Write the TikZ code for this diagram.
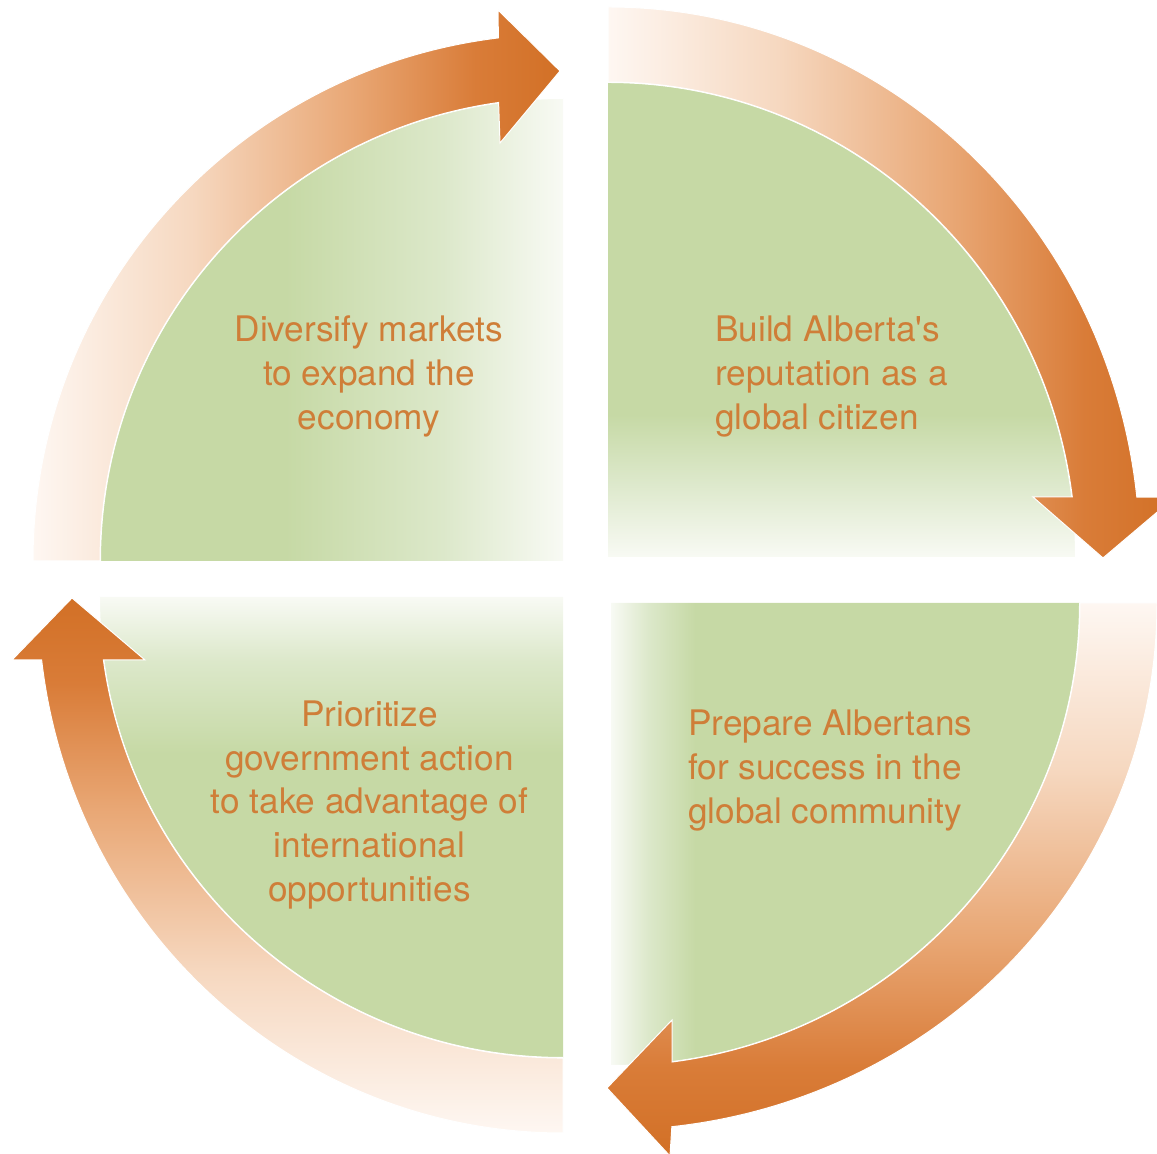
\documentclass[tikz,border=0pt]{standalone}
\usepackage{fontspec}
\newfontfamily\hv{TeX Gyre Heros}
\definecolor{gr}{RGB}{198,217,165}
\definecolor{gm}{RGB}{220,232,202}
\definecolor{gw}{RGB}{248,250,244}
\definecolor{o0}{RGB}{254,247,242}
\definecolor{o1}{RGB}{246,216,192}
\definecolor{o2}{RGB}{233,168,118}
\definecolor{o3}{RGB}{217,124,56}
\definecolor{o4}{RGB}{210,112,38}
\definecolor{txt}{RGB}{207,126,56}
% orange ramps
\pgfdeclarehorizontalshading{orH}{100bp}{color(0bp)=(o0); color(25bp)=(o0); color(40bp)=(o1); color(55bp)=(o2); color(67bp)=(o3); color(75bp)=(o4); color(100bp)=(o4)}
\pgfdeclareverticalshading{orUp}{100bp}{color(0bp)=(o0); color(25bp)=(o0); color(40bp)=(o1); color(55bp)=(o2); color(67bp)=(o3); color(75bp)=(o4); color(100bp)=(o4)}
\pgfdeclareverticalshading{orDown}{100bp}{color(0bp)=(o4); color(25bp)=(o4); color(33bp)=(o3); color(45bp)=(o2); color(60bp)=(o1); color(75bp)=(o0); color(100bp)=(o0)}
% green ramps
\pgfdeclarehorizontalshading{gTL}{100bp}{color(0bp)=(gr); color(45bp)=(gr); color(62bp)=(gm); color(75bp)=(gw); color(100bp)=(gw)}
\pgfdeclareverticalshading{gTR}{100bp}{color(0bp)=(gw); color(25bp)=(gw); color(33bp)=(gm); color(40bp)=(gr); color(100bp)=(gr)}
\pgfdeclarehorizontalshading{gBR}{100bp}{color(0bp)=(gw); color(25bp)=(gw); color(29bp)=(gm); color(34bp)=(gr); color(100bp)=(gr)}
\pgfdeclareverticalshading{gBL}{100bp}{color(0bp)=(gr); color(58bp)=(gr); color(68bp)=(gm); color(75bp)=(gw); color(100bp)=(gw)}
\begin{document}
\begin{tikzpicture}[x=1pt,y=1pt,
  lbl/.style={inner sep=0pt, text=txt, font=\hv\fontsize{35.2}{44}\selectfont},
  rim/.style={white, line width=2pt},
  arrowband/.style={draw=white, line width=1pt}]
\useasboundingbox (0,0) rectangle (1157,1154);
\clip (0,0) rectangle (1157,1154);
% green quadrants
\shade[shading=gTL] (563,593) -- (100,593) arc[start angle=180,end angle=90,radius=463pt] -- cycle;
\shade[shading=gTR] (608,597) -- (608,1072) arc[start angle=90,end angle=0,x radius=468pt,y radius=475pt] -- cycle;
\shade[shading=gBR] (611,551) -- (1080,551) arc[start angle=0,end angle=-90,x radius=469pt,y radius=463pt] -- cycle;
\shade[shading=gBL] (563,557) -- (563,96) arc[start angle=270,end angle=180,x radius=464pt,y radius=461pt] -- cycle;
% white rims along the quadrant arcs
\draw[rim] (100,593) arc[start angle=180,end angle=90,radius=463pt];
\draw[rim] (608,1072) arc[start angle=90,end angle=0,x radius=468pt,y radius=475pt];
\draw[rim] (1080,551) arc[start angle=0,end angle=-90,x radius=469pt,y radius=463pt];
\draw[rim] (563,96) arc[start angle=270,end angle=180,x radius=464pt,y radius=461pt];
% arrows
\shadedraw[shading=orH, arrowband] (33,593) arc[start angle=180,end angle=97,x radius=530pt,y radius=527pt]
  -- (498,1144) -- (560,1083) -- (500,1011) -- (498.6,1051.5)
  arc[start angle=98,end angle=180,radius=463pt] -- cycle;
\shadedraw[shading=orH, arrowband] (608,1147) arc[start angle=90,end angle=6.26,x radius=532pt,y radius=550pt]
  -- (1175,657) -- (1103,596) -- (1033,657) -- (1072.3,657)
  arc[start angle=7.26,end angle=90,x radius=468pt,y radius=475pt] -- cycle;
\shadedraw[shading=orDown, arrowband] (1157,551) arc[start angle=0,end angle=-83.6,x radius=546pt,y radius=527pt]
  -- (670,-2) -- (607,66) -- (672,134) -- (672.2,92)
  arc[start angle=-82.5,end angle=0,x radius=469pt,y radius=463pt] -- cycle;
\shadedraw[shading=orUp, arrowband] (563,21) arc[start angle=270,end angle=186.75,x radius=525pt,y radius=536pt]
  -- (12,494) -- (72,556) -- (145,494) -- (103.4,494)
  arc[start angle=187.85,end angle=270,x radius=464pt,y radius=461pt] -- cycle;
% texts
\node[lbl, anchor=base] (tl1) at (369,812) {Diversify markets};
\node[lbl, anchor=base] (tl2) at (369,768) {to expand the};
\node[lbl, anchor=base] (tl3) at (369,724) {economy};
\node[lbl, anchor=base west] (tr1) at (715,812) {Build Alberta's};
\node[lbl, anchor=base west] (tr2) at (715,768) {reputation as a};
\node[lbl, anchor=base west] (tr3) at (715,724) {global citizen};
\node[lbl, anchor=base west] (br1) at (688,418) {Prepare Albertans};
\node[lbl, anchor=base west] (br2) at (688,374) {for success in the};
\node[lbl, anchor=base west] (br3) at (688,330) {global community};
\node[lbl, anchor=base] (bl1) at (369.5,427.5) {Prioritize};
\node[lbl, anchor=base] (bl2) at (369.5,383.5) {government action};
\node[lbl, anchor=base] (bl3) at (369.5,340) {to take advantage of};
\node[lbl, anchor=base] (bl4) at (369.5,296) {international};
\node[lbl, anchor=base] (bl5) at (369.5,252) {opportunities};
\end{tikzpicture}
\end{document}
